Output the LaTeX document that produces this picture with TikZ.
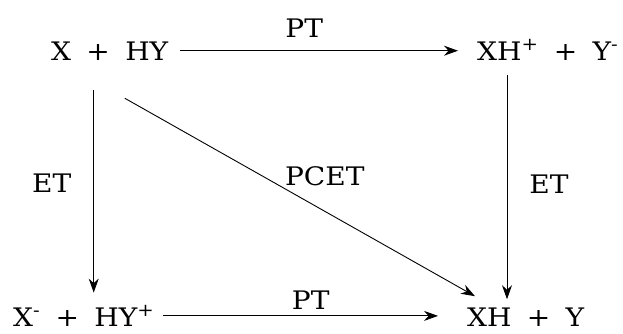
\documentclass[tikz,border=0pt]{standalone}
\usepackage{fontspec}
\setmainfont[FakeStretch=1.1]{DejaVu Serif}
\usetikzlibrary{arrows.meta}
\newcommand{\pl}{\hspace{0.6em}+\hspace{0.6em}}
\begin{document}
\begin{tikzpicture}[x=1pt,y=-1pt,font=\fontsize{25.5}{30}\selectfont,
	sp/.style={anchor=base west,inner sep=0},
	lab/.style={inner sep=0},
	arr/.style={-{Stealth[length=14pt,width=10pt]},line width=0.9pt}]
	\useasboundingbox (0,0) rectangle (623,333);
	\node [sp] (r) at (51,60) {X\pl HY};
	\node [sp] (p) at (477,60) {XH\textsuperscript{+}\pl Y\textsuperscript{-}};
	\node [sp] (e) at (13,326) {X\textsuperscript{-}\pl HY\textsuperscript{+}};
	\node [sp] (f) at (467,326) {XH\pl Y};
	\draw [arr,shorten <=12pt,shorten >=19pt] (r.east) -- (r.east -| p.west) node [lab,pos=0.44,above=13pt] (pt1) {PT};
	\draw [arr,shorten <=8pt,shorten >=29pt] (e.east) -- (e.east -| f.west) node [lab,midway,above=6pt] (pt2) {PT};
	\draw [arr,shorten <=30pt,shorten >=13pt] ([xshift=-16pt]r.south) -- ([xshift=-16pt]r.south |- e.north) node [lab,midway,left=22pt] (et1) {ET};
	\draw [arr,shorten <=15pt,shorten >=8pt] ([xshift=30pt]p.south west) -- ([xshift=30pt]p.south west |- f.north) node [lab,midway,right=22pt] (et2) {ET};
	\draw [arr] ([xshift=15pt,yshift=-38pt]r.south) -- ([xshift=8pt,yshift=11pt]f.north west) node [lab,midway,xshift=25pt,yshift=21pt] (pcet) {PCET};
\end{tikzpicture}
\end{document}
